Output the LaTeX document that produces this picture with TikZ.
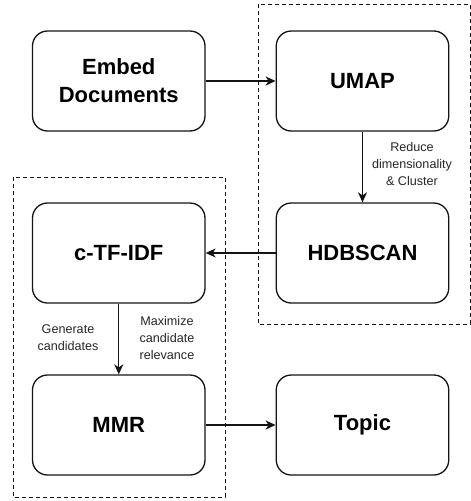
\documentclass[tikz,border=0pt]{standalone}
\usepackage{fontspec}
\setmainfont{Liberation Sans}
\usepackage{xcolor}
\definecolor{boxline}{RGB}{20,20,20}
\usetikzlibrary{arrows.meta, positioning}

\begin{document}
\begin{tikzpicture}[x=1pt, y=-1pt,
    blk/.style={draw=boxline, line width=1.3pt, rounded corners=15pt, fill=white,
                minimum width=172.5pt, minimum height=100pt, align=center,
                font=\fontsize{22}{28}\selectfont\bfseries},
    flow/.style={-{Stealth[length=10pt, width=9pt, inset=3pt]}, line width=1.1pt, boxline},
    grp/.style={dashed, dash pattern=on 4pt off 3pt, line width=1pt, boxline},
    lbl/.style={font=\fontsize{12.6}{17}\selectfont, align=center, text=black!85}]

\useasboundingbox (0,0) rectangle (471,501);

% === Dashed groups ===
\draw[grp] (258,4) rectangle (470,324);
\draw[grp] (13,177) rectangle (225,497);

% === Steps ===
\node[blk] (embed) at (118.75,81) {Embed\\Documents};
\node[blk] (umap) at (362.5,81) {UMAP};
\node[blk] (hdbscan) at (362.5,253) {HDBSCAN};
\node[blk] (ctfidf) at (118.75,253) {c-TF-IDF};
\node[blk] (mmr) at (118.75,425) {MMR};
\node[blk] (topic) at (362.5,425) {Topic};

% === Arrows ===
\draw[flow] (embed) -- (umap);
\draw[flow] (umap) -- (hdbscan);
\draw[flow] (hdbscan) -- (ctfidf);
\draw[flow] (ctfidf) -- (mmr);
\draw[flow] (mmr) -- (topic);

% Labels
\node[lbl] (reduce) at (412,164) {Reduce\\dimensionality\\\& Cluster};
\node[lbl] (generate) at (68,338) {Generate\\candidates};
\node[lbl] (maximize) at (167,338) {Maximize\\candidate\\relevance};

\end{tikzpicture}
\end{document}
